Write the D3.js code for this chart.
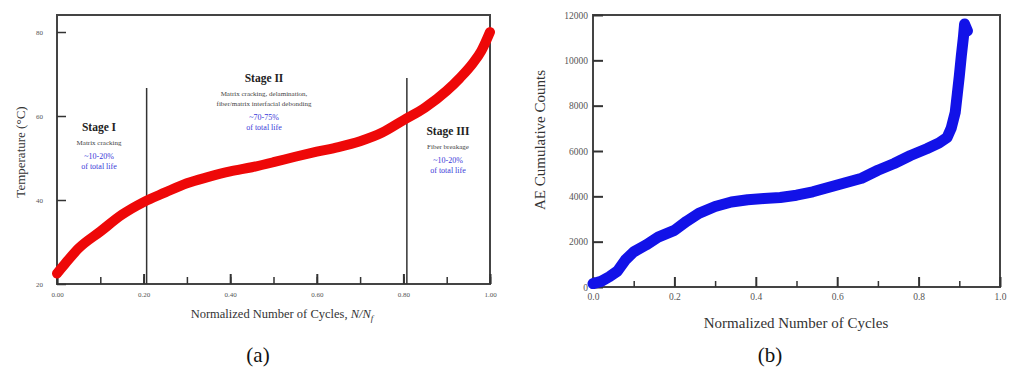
<!DOCTYPE html>
<html><head><meta charset="utf-8">
<script src="https://cdn.jsdelivr.net/npm/d3@7"></script>
<style>body{margin:0;background:#fff}svg{display:block}text{font-family:"Liberation Serif","DejaVu Serif",serif}</style>
</head><body>
<script>
// Panel (a): temperature vs normalized cycles
const tempX = [0.00,0.02,0.05,0.10,0.15,0.20,0.25,0.30,0.35,0.40,0.45,0.50,0.55,0.60,0.65,0.70,0.75,0.80,0.85,0.90,0.93,0.96,0.98,1.00];
const tempY = [22.5,25,28.5,32.5,36.5,39.5,41.8,44,45.5,46.8,47.8,49,50.3,51.5,52.6,54,56,59,62,66,69,72.5,75.5,80];
const tempYTicks = [20,40,60,80];
const tempXTicks = ["0.00","0.20","0.40","0.60","0.80","1.00"];
const stageLines = [0.207, 0.808];
// Panel (b): AE cumulative counts
const aeX = [0.00,0.02,0.04,0.06,0.08,0.10,0.13,0.16,0.20,0.23,0.26,0.30,0.34,0.38,0.42,0.46,0.50,0.54,0.58,0.62,0.66,0.70,0.74,0.78,0.82,0.85,0.87,0.88,0.89,0.895,0.90,0.905,0.91,0.913,0.92];
const aeY = [150,250,450,700,1200,1550,1850,2200,2500,2900,3250,3550,3750,3850,3900,3950,4050,4200,4400,4600,4800,5150,5450,5800,6100,6350,6600,7000,7700,8500,9300,10200,11000,11600,11300];
const aeYTicks = [0,2000,4000,6000,8000,10000,12000];
const aeXTicks = [0,0.2,0.4,0.6,0.8,1.0];

const svg = d3.select("body").append("svg").attr("width",1009).attr("height",373);
const SERIF = "Liberation Serif, DejaVu Serif, serif";

// ---------- Panel (a)
const xa = d3.scaleLinear().domain([0,1]).range([57,490]);
const ya = d3.scaleLinear().domain([20,84.05]).range([284,15]);
const ga = svg.append("g");
ga.append("rect").attr("x",57).attr("y",15).attr("width",433).attr("height",269)
  .attr("fill","none").attr("stroke","#444").attr("stroke-width",2);
ga.append("g").attr("transform","translate(0,284)")
  .call(d3.axisBottom(xa).tickValues(d3.range(0,1.001,0.1)).tickSize(-7).tickFormat(""))
  .call(g=>{g.select(".domain").remove();g.selectAll("line").attr("stroke","#333").attr("stroke-width",1.5);});
ga.append("g").attr("transform","translate(0,284)")
  .call(d3.axisBottom(xa).tickValues(tempXTicks.map(Number)).tickSize(-10).tickPadding(17).tickFormat((d,i)=>tempXTicks[i]))
  .call(g=>{g.select(".domain").remove();g.attr("font-family",SERIF);g.selectAll("line").attr("stroke","#333").attr("stroke-width",2);
    g.selectAll("text").attr("y",8).attr("font-size",7).attr("fill","#555");});
ga.append("g").attr("transform","translate(57,0)")
  .call(d3.axisLeft(ya).tickValues(tempYTicks).tickSize(-9).tickPadding(14))
  .call(g=>{g.select(".domain").remove();g.attr("font-family",SERIF);g.selectAll("line").attr("stroke","#333").attr("stroke-width",1.5);
    g.selectAll("text").attr("font-size",7).attr("fill","#555");});
const stageTop = [88,78];
stageLines.forEach((s,i)=>ga.append("line").attr("x1",xa(s)).attr("x2",xa(s)).attr("y1",stageTop[i]).attr("y2",284)
  .attr("stroke","#333").attr("stroke-width",1.5));
ga.append("path").datum(tempX.map((x,i)=>[x,tempY[i]]))
  .attr("d",d3.line().x(d=>xa(d[0])).y(d=>ya(d[1])).curve(d3.curveMonotoneX))
  .attr("fill","none").attr("stroke","#ee0808").attr("stroke-width",10).attr("stroke-linecap","round");
function stage(x,y,title,lines,pct){
  ga.append("text").attr("x",x).attr("y",y).attr("text-anchor","middle").attr("font-size",11.5).attr("font-weight","bold").attr("fill","#222").text(title);
  let yy=y+14;
  lines.forEach(l=>{ga.append("text").attr("x",x).attr("y",yy).attr("text-anchor","middle").attr("font-size",7).attr("fill","#444").text(l);yy+=10;});
  yy+=4;
  ga.append("text").attr("x",x).attr("y",yy).attr("text-anchor","middle").attr("font-size",8).attr("fill","#3838d8").text(pct);
  ga.append("text").attr("x",x).attr("y",yy+10).attr("text-anchor","middle").attr("font-size",8).attr("fill","#3838d8").text("of total life");
}
stage(99,131,"Stage I",["Matrix cracking"],"~10-20%");
stage(264,82,"Stage II",["Matrix cracking, delamination,","fiber/matrix interfacial debonding"],"~70-75%");
stage(448,135,"Stage III",["Fiber breakage"],"~10-20%");
ga.append("text").attr("transform","translate(25,152) rotate(-90)").attr("text-anchor","middle").attr("font-size",13).attr("fill","#333")
  .text("Temperature (°C)");
const xt = ga.append("text").attr("x",282).attr("y",318).attr("text-anchor","middle").attr("font-size",12.5).attr("fill","#333");
xt.append("tspan").text("Normalized Number of Cycles, ");
xt.append("tspan").attr("font-style","italic").text("N/N");
xt.append("tspan").attr("font-style","italic").attr("font-size",9).attr("dy",3).text("f");
svg.append("text").attr("x",258).attr("y",362).attr("text-anchor","middle").attr("font-size",21).attr("fill","#111").text("(a)");

// ---------- Panel (b)
const xb = d3.scaleLinear().domain([0,1]).range([593,1000]);
const yb = d3.scaleLinear().domain([0,12000]).range([287,15]);
const gb = svg.append("g");
gb.append("rect").attr("x",593).attr("y",15).attr("width",407).attr("height",272)
  .attr("fill","none").attr("stroke","#444").attr("stroke-width",2);
gb.append("g").attr("transform","translate(0,287)")
  .call(d3.axisBottom(xb).tickValues(d3.range(0.1,1,0.2)).tickSize(-6).tickFormat(""))
  .call(g=>{g.select(".domain").remove();g.selectAll("line").attr("stroke","#333").attr("stroke-width",1.5);});
gb.append("g").attr("transform","translate(0,287)")
  .call(d3.axisBottom(xb).tickValues(aeXTicks).tickSize(-10).tickPadding(5).tickFormat(d3.format(".1f")))
  .call(g=>{g.select(".domain").remove();g.attr("font-family",SERIF);g.selectAll("line").attr("stroke","#333").attr("stroke-width",2);
    g.selectAll("text").attr("y",6).attr("font-size",9.5).attr("fill","#555");});
gb.append("g").attr("transform","translate(593,0)")
  .call(d3.axisLeft(yb).tickValues(aeYTicks).tickSize(-10).tickPadding(4).tickFormat(d3.format("d")))
  .call(g=>{g.select(".domain").remove();g.attr("font-family",SERIF);g.selectAll("line").attr("stroke","#333").attr("stroke-width",2);
    g.selectAll("text").attr("x",-5).attr("font-size",9.5).attr("fill","#555");});
gb.append("path").datum(aeX.map((x,i)=>[x,aeY[i]]))
  .attr("d",d3.line().x(d=>xb(d[0])).y(d=>yb(d[1])))
  .attr("fill","none").attr("stroke","#1212e8").attr("stroke-width",11).attr("stroke-linejoin","round").attr("stroke-linecap","round");
gb.append("text").attr("transform","translate(545,140) rotate(-90)").attr("text-anchor","middle").attr("font-size",15).attr("fill","#333")
  .text("AE Cumulative Counts");
gb.append("text").attr("x",796).attr("y",328).attr("text-anchor","middle").attr("font-size",15).attr("fill","#333")
  .text("Normalized Number of Cycles");
svg.append("text").attr("x",770).attr("y",362).attr("text-anchor","middle").attr("font-size",21).attr("fill","#111").text("(b)");
</script>
</body></html>
